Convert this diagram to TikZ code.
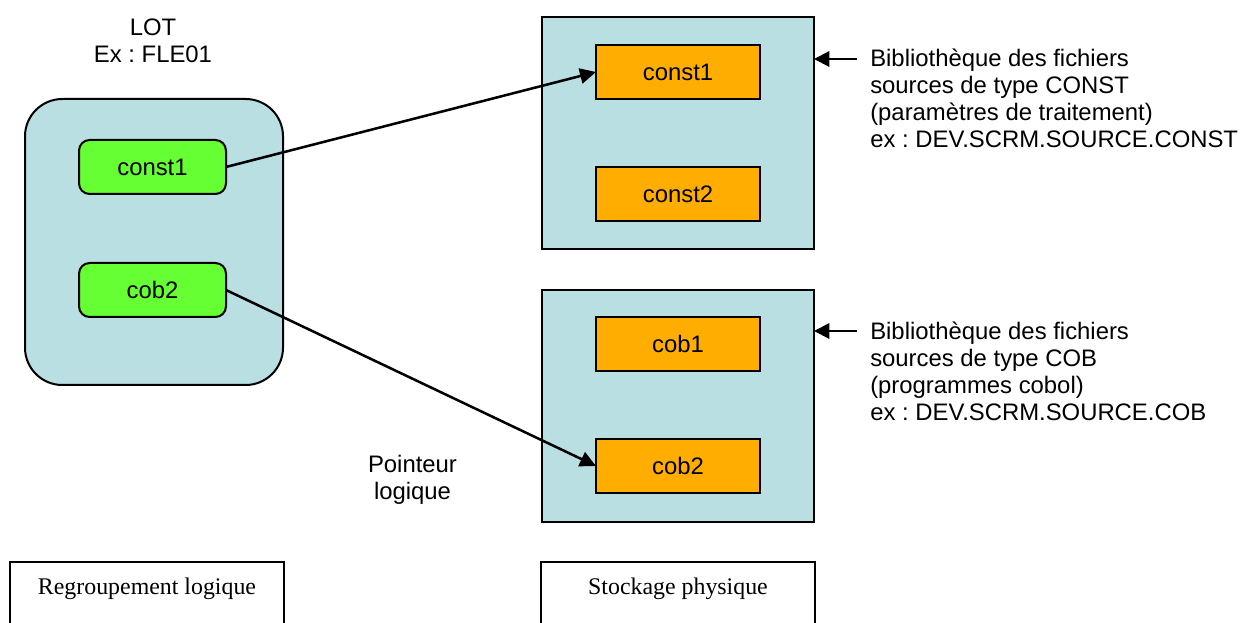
\documentclass[tikz,border=0pt]{standalone}
\usepackage{fontspec}
\setmainfont{Liberation Sans}
\newfontfamily\serifface{Liberation Serif}
\usetikzlibrary{arrows.meta}
\definecolor{pale}{HTML}{B9DFE3}
\definecolor{lime}{HTML}{66FF33}
\definecolor{amber}{HTML}{FFAD00}
\frenchspacing
\tikzset{
  x=0.75pt,y=-0.75pt,
  base/.style={draw=black,line width=1.5pt,inner sep=0pt,outer sep=0pt,anchor=north west},
  panel/.style={base,fill=pale,minimum width=272*0.75pt,minimum height=232*0.75pt},
  lotbox/.style={base,fill=pale,rounded corners=28pt,minimum width=258*0.75pt,minimum height=286*0.75pt},
  green/.style={base,fill=lime,rounded corners=8pt,minimum width=147*0.75pt,minimum height=54*0.75pt,font=\fontsize{17.9}{20}\selectfont},
  file/.style={base,fill=amber,minimum width=164*0.75pt,minimum height=54*0.75pt,font=\fontsize{17.9}{20}\selectfont},
  legendbox/.style={base,fill=white,minimum width=274*0.75pt,minimum height=100*0.75pt},
  label/.style={font=\fontsize{17.9}{20.25}\selectfont,align=left,anchor=north west,inner sep=0pt},
  clabel/.style={font=\fontsize{17.9}{20.25}\selectfont,align=center,inner sep=0pt},
  slabel/.style={font=\serifface\fontsize{17.9}{20}\selectfont,inner sep=0pt,anchor=base},
  link/.style={line width=1.9pt,-{Triangle[length=12pt,width=11.5pt]}},
  note/.style={line width=1.6pt,-{Triangle[length=11.5pt,width=11.5pt]}}
}
\begin{document}
\begin{tikzpicture}
\useasboundingbox (0,0) rectangle (1243,623);
\clip (0,0) rectangle (1243,623);
\node[lotbox] (lot) at (25,99) {};
\node[green] (g1) at (79,140) {const1};
\node[green] (g2) at (79,263) {cob2};
\node[panel] (p1) at (542,17) {};
\node[panel] (p2) at (542,290) {};
\node[file] (f1) at (596,45) {const1};
\node[file] (f2) at (596,167) {const2};
\node[file] (f3) at (596,317) {cob1};
\node[file] (f4) at (596,439) {cob2};
\node[clabel] (lottext) at (153,40.5) {LOT\\Ex : FLE01};
\node[clabel] (ptr) at (412.5,479.5) {Pointeur\\logique};
\node[label] (t1) at (870,49) {Bibliothèque des fichiers\\sources de type CONST\\(paramètres de traitement)\\ex : DEV.SCRM.SOURCE.CONST};
\node[label] (t2) at (870,322) {Bibliothèque des fichiers\\sources de type COB\\(programmes cobol)\\ex : DEV.SCRM.SOURCE.COB};
\node[legendbox] (l1) at (10,562) {};
\node[legendbox] (l2) at (541,562) {};
\node[slabel] (lt1) at (147,594) {Regroupement logique};
\node[slabel] (lt2) at (678,594) {Stockage physique};
\coordinate (a1) at (857,59);
\coordinate (a2) at (857,331);
\draw[link] (g1.east) -- (f1.west);
\draw[link] (g2.east) -- (f4.west);
\draw[note] (a1) -- (p1.east |- a1);
\draw[note] (a2) -- (p2.east |- a2);
\end{tikzpicture}
\end{document}
